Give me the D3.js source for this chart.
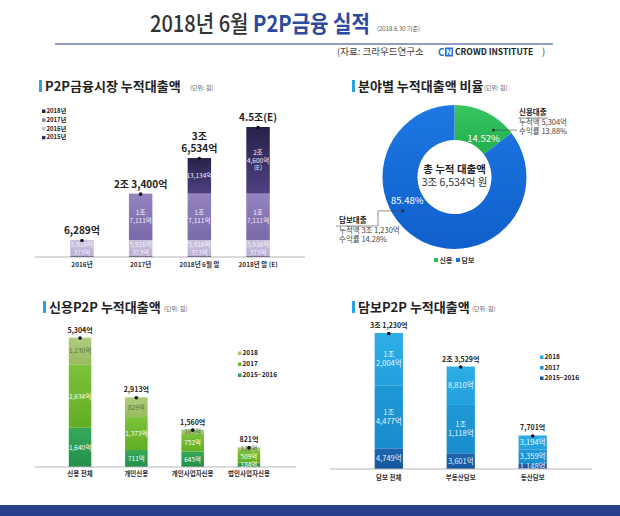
<!DOCTYPE html>
<html>
<head>
<meta charset="utf-8">
<script src="https://cdn.jsdelivr.net/npm/d3@7"></script>
<style>
  body { margin: 0; background: #fff; }
  svg { display: block; font-family: "Noto Sans CJK KR", "Noto Sans", sans-serif; }
</style>
</head>
<body>
<div id="chart"></div>
<script>
  // ---- data (억 원) ----
  const marketCats = ['2016년', '2017년', '2018년 6월 말', '2018년 말 (E)'];
  const marketKeys = ['2018년', '2017년', '2016년', '2015년'];
  const market2015 = [373, 373, 373, 373];
  const market2016 = [5916, 5916, 5916, 5916];
  const market2017 = [0, 17111, 17111, 17111];
  const market2018 = [0, 0, 13134, 24600];
  const marketTotals = [['6,289억'], ['2조 3,400억'], ['3조', '6,534억'], ['4.5조(E)']];
  const marketLabels2016 = [['5,916억', '373억'], ['5,916억', '373억'], ['5,916억', '373억'], ['5,916억', '373억']];
  const marketLabels2017 = [[], ['1조', '7,111억'], ['1조', '7,111억'], ['1조', '7,111억']];
  const marketLabels2018 = [[], [], ['13,134억'], ['2조', '4,600억', '(E)']];

  const shareCats = ['신용', '담보'];
  const shareValues = [14.52, 85.48];
  const shareTotal = ['총 누적 대출액', '3조 6,534억 원'];
  const creditNote = ['신용대출', '누적액 5,304억', '수익률 13.88%'];
  const securedNote = ['담보대출', '누적액 3조 1,230억', '수익률 14.28%'];

  const creditCats = ['신용 전체', '개인신용', '개인사업자신용', '법인사업자신용'];
  const creditKeys = ['2018', '2017', '2015~2016'];
  const credit1516 = [1640, 711, 645, 184];
  const credit2017 = [2634, 1373, 752, 509];
  const credit2018 = [1130, 829, 163, 128];
  const creditTotals = ['5,304억', '2,913억', '1,560억', '821억'];

  const securedCats = ['담보 전체', '부동산담보', '동산담보'];
  const securedKeys = ['2018', '2017', '2015~2016'];
  const secured1516 = [4749, 3601, 1148];
  const secured2017 = [14477, 11118, 3359];
  const secured2018 = [12004, 8810, 3194];
  const securedTotals = ['3조 1,230억', '2조 3,529억', '7,701억'];

  const fmt = d3.format(',');
  const joLabel = v => v >= 10000 ? [Math.floor(v / 10000) + '조', fmt(v % 10000) + '억'] : [fmt(v) + '억'];

  const svg = d3.select('#chart').append('svg')
    .attr('width', 620).attr('height', 516);

  // gradients
  const defs = svg.append('defs');
  const grad = (id, c1, c2) => {
    const g = defs.append('linearGradient').attr('id', id)
      .attr('x1', 0).attr('y1', 0).attr('x2', 0).attr('y2', 1);
    g.append('stop').attr('offset', '0%').attr('stop-color', c1);
    g.append('stop').attr('offset', '100%').attr('stop-color', c2);
  };
  grad('m2018', '#26224a', '#4f3f82');
  grad('m2017', '#9483bf', '#7a69aa');
  grad('m2016', '#cbc1de', '#bcb0d4');
  grad('c2018', '#b0cc7e', '#98ba5e');
  grad('c2017', '#7cc23a', '#62ad24');
  grad('c1516', '#37a85a', '#238f48');
  grad('s2018', '#2eaee5', '#22a0dc');
  grad('s2017', '#1f98d6', '#1a8ccc');
  grad('s1516', '#1c66ae', '#14559c');
  grad('gGreen', '#37c662', '#22ad4e');
  grad('gBlue', '#1e78e2', '#0f5fcc');

  // ---- title ----
  const title = svg.append('text').attr('x', 150).attr('y', 32)
    .attr('textLength', 220).attr('lengthAdjust', 'spacingAndGlyphs')
    .style('font-size', '23px').style('font-weight', 500);
  title.append('tspan').attr('fill', '#333').text('2018년 6월 ');
  title.append('tspan').attr('fill', '#2b4aa0').style('font-weight', 700).text('P2P금융 실적');
  svg.append('text').attr('x', 377).attr('y', 31)
    .attr('fill', '#555').style('font-size', '6px').text('(2018.6.30 기준)');
  svg.append('line').attr('x1', 55).attr('x2', 553).attr('y1', 44).attr('y2', 44)
    .attr('stroke', '#2b3f8a').attr('stroke-width', 1.2);

  // source line
  svg.append('text').attr('x', 337).attr('y', 55).attr('fill', '#444')
    .style('font-size', '9.5px').text('(자료: 크라우드연구소');
  svg.append('text').attr('x', 438).attr('y', 55.5).attr('fill', '#2a6fc9')
    .style('font-size', '10px').style('font-weight', 700).text('C');
  svg.append('rect').attr('x', 445).attr('y', 47.5).attr('width', 8).attr('height', 9).attr('fill', '#2a6fc9');
  svg.append('text').attr('x', 449).attr('y', 55).attr('text-anchor', 'middle').attr('fill', '#fff')
    .style('font-size', '8px').style('font-weight', 700).text('N');
  svg.append('text').attr('x', 455).attr('y', 55).attr('fill', '#222')
    .style('font-size', '8.5px').style('font-weight', 700).text('CROWD INSTITUTE');
  svg.append('text').attr('x', 542).attr('y', 55).attr('fill', '#444')
    .style('font-size', '9.5px').text(')');

  // section headings
  const heading = (x, y, text, unitX) => {
    svg.append('rect').attr('x', x).attr('y', y - 11).attr('width', 3).attr('height', 12).attr('fill', '#29a3e0');
    svg.append('text').attr('x', x + 6).attr('y', y).attr('fill', '#222')
      .style('font-size', '13px').style('font-weight', 700).text(text);
    svg.append('text').attr('x', unitX).attr('y', y - 1).attr('fill', '#666')
      .style('font-size', '6px').text('(단위: 원)');
  };
  heading(39, 91, 'P2P금융시장 누적대출액', 190);
  heading(352, 91, '분야별 누적대출액 비율', 484);
  heading(43, 312, '신용P2P 누적대출액', 164);
  heading(352, 312, '담보P2P 누적대출액', 472);

  // ---- generic stacked bar chart ----
  const createStacked = (cfg) => {
    const g = svg.append('g');
    const x = d3.scaleBand().domain(cfg.cats).range(cfg.xRange).padding(cfg.padding);
    const y = d3.scaleLinear().domain([0, cfg.max]).range([cfg.baseY, cfg.topY]);
    const rows = cfg.cats.map((c, i) => {
      const r = { cat: c };
      cfg.series.forEach((s, j) => { r['s' + j] = s[i]; });
      return r;
    });
    const stack = d3.stack().keys(cfg.series.map((s, j) => 's' + j))(rows);

    stack.forEach((layer, j) => {
      g.append('g').selectAll('rect')
        .data(layer)
        .join('rect')
          .attr('x', d => x(d.data.cat))
          .attr('y', d => y(d[1]))
          .attr('width', x.bandwidth())
          .attr('height', d => y(d[0]) - y(d[1]))
          .attr('fill', cfg.fills[j]);
    });

    // inner labels
    stack.forEach((layer, j) => {
      layer.forEach((d, i) => {
        const lines = cfg.innerLabel(j, i, d);
        if (!lines || !lines.length) return;
        const lo = cfg.labelBottom ? cfg.labelBottom(j, i, d) : d[0];
        const cy = (y(lo) + y(d[1])) / 2;
        const lh = cfg.innerSize * 1.2;
        const y0 = cy - (lines.length - 1) * lh / 2 + cfg.innerSize * 0.36;
        g.append('text')
          .attr('text-anchor', 'middle')
          .attr('fill', cfg.innerColors[j])
          .style('font-size', cfg.innerSize + 'px')
          .selectAll('tspan').data(lines).join('tspan')
            .attr('x', x(d.data.cat) + x.bandwidth() / 2)
            .attr('y', (t, k) => y0 + k * lh)
            .text(t => t);
      });
    });

    // totals with dots
    const top = stack[stack.length - 1];
    top.forEach((d, i) => {
      const cx = x(d.data.cat) + x.bandwidth() / 2;
      g.append('circle').attr('cx', cx).attr('cy', y(d[1]) + 0.5).attr('r', 1.8).attr('fill', '#111');
      const lines = [].concat(cfg.totals[i]);
      const lh = cfg.totalSize * 1.2;
      g.append('text')
        .attr('text-anchor', 'middle')
        .attr('fill', '#222')
        .style('font-size', cfg.totalSize + 'px')
        .style('font-weight', 700)
        .selectAll('tspan').data(lines).join('tspan')
          .attr('x', cx)
          .attr('y', (t, k) => y(d[1]) - cfg.totalGap - (lines.length - 1 - k) * lh)
          .text(t => t);
    });

    // axis
    const axis = g.append('g')
      .attr('transform', `translate(0, ${cfg.baseY})`)
      .call(d3.axisBottom(x).tickSize(0).tickPadding(cfg.tickPad));
    axis.select('.domain').attr('stroke', '#b5b5b5')
      .attr('d', `M${cfg.axisX[0]},0H${cfg.axisX[1]}`);
    axis.selectAll('text')
      .attr('fill', '#333')
      .style('font-family', '"Noto Sans CJK KR", sans-serif')
      .style('font-size', '6.5px')
      .style('font-weight', 700);

    // legend
    const leg = g.append('g');
    cfg.legendKeys.forEach((k, i) => {
      const ly = cfg.legendY + i * cfg.legendStep;
      leg.append('rect').attr('x', cfg.legendX).attr('y', ly - 3.5).attr('width', 3.5).attr('height', 3.5)
        .attr('fill', cfg.legendFills[i]);
      leg.append('text').attr('x', cfg.legendX + 4.5).attr('y', ly).attr('fill', '#222')
        .style('font-size', cfg.legendSize + 'px').style('font-weight', 700).text(k);
    });
  };

  // P2P market cumulative
  createStacked({
    cats: marketCats,
    series: [market2015, market2016, market2017, market2018],
    fills: ['#3b2d6e', 'url(#m2016)', 'url(#m2017)', 'url(#m2018)'],
    xRange: [35, 305], padding: 0.6,
    max: 48000, baseY: 257, topY: 127,
    innerSize: 6.5,
    innerColors: ['#fff', '#f4f1fa', '#f4f1fa', '#f4f1fa'],
    innerLabel: (j, i) => [null, marketLabels2016[i], marketLabels2017[i], marketLabels2018[i]][j],
    labelBottom: (j, i, d) => j === 1 ? 0 : d[0],
    totals: marketTotals, totalSize: 10, totalGap: 6,
    axisX: [35, 305], tickPad: 5,
    legendKeys: marketKeys,
    legendFills: ['#2a2550', '#8a78b6', '#c9bedc', '#3b2d6e'],
    legendX: 42, legendY: 113, legendStep: 8.8, legendSize: 6
  });

  // credit P2P
  createStacked({
    cats: creditCats,
    series: [credit1516, credit2017, credit2018],
    fills: ['url(#c1516)', 'url(#c2017)', 'url(#c2018)'],
    xRange: [35, 294], padding: 0.6,
    max: 5304, baseY: 467, topY: 340,
    innerSize: 6.5,
    innerColors: ['#fff', '#fff', '#5f7040'],
    innerLabel: (j, i, d) => [fmt(d.data['s' + j]) + '억'],
    totals: creditTotals, totalSize: 7, totalGap: 5,
    axisX: [35, 296], tickPad: 4,
    legendKeys: creditKeys,
    legendFills: ['#a5c46e', '#72b82e', '#2f9f52'],
    legendX: 238, legendY: 355, legendStep: 11, legendSize: 6.5
  });

  // secured P2P
  createStacked({
    cats: securedCats,
    series: [secured1516, secured2017, secured2018],
    fills: ['url(#s1516)', 'url(#s2017)', 'url(#s2018)'],
    xRange: [331, 590.5], padding: 0.607,
    max: 31230, baseY: 469, topY: 333,
    innerSize: 7.5,
    innerColors: ['#e6eef8', '#eaf6fc', '#eaf6fc'],
    innerLabel: (j, i, d) => joLabel(d.data['s' + j]),
    totals: securedTotals, totalSize: 7, totalGap: 5,
    axisX: [330, 592], tickPad: 6,
    legendKeys: securedKeys,
    legendFills: ['#2aa7e1', '#1b93d3', '#17599e'],
    legendX: 540, legendY: 359, legendStep: 10.5, legendSize: 6.5
  });

  // ---- donut ----
  const cx = 454.5, cy = 177, rIn = 37, rOut = 72;
  const donut = svg.append('g').attr('transform', `translate(${cx},${cy})`);
  const pie = d3.pie().sort(null).value(d => d);
  const slices = pie(shareValues);
  const arc = d3.arc().innerRadius(rIn).outerRadius(rOut);
  const sliceFills = ['url(#gGreen)', 'url(#gBlue)'];
  donut.selectAll('path')
    .data(slices)
    .join('path')
      .attr('d', arc)
      .attr('fill', (d, i) => sliceFills[i]);

  const along = (d, f) => d.startAngle + (d.endAngle - d.startAngle) * f;
  const pctPos = [[0.71, 48], [0.62, 53]];
  donut.selectAll('text.pct')
    .data(slices)
    .join('text')
      .attr('class', 'pct')
      .attr('transform', (d, i) => `translate(${d3.pointRadial(along(d, pctPos[i][0]), pctPos[i][1])})`)
      .attr('text-anchor', 'middle')
      .attr('dy', '0.35em')
      .attr('fill', '#fff')
      .style('font-size', '9.5px')
      .text((d, i) => shareValues[i].toFixed(2) + '%');

  donut.append('text').attr('text-anchor', 'middle').attr('y', -4)
    .attr('fill', '#222').style('font-size', '10.5px').style('font-weight', 700).text(shareTotal[0]);
  donut.append('text').attr('text-anchor', 'middle').attr('y', 9)
    .attr('fill', '#333').style('font-size', '10.5px').text(shareTotal[1]);

  // annotations
  const dotG = d3.pointRadial(along(slices[0], 0.76), 61);
  const dotB = d3.pointRadial(along(slices[1], 0.6), 62);
  const note = (lines, tx, ty) => {
    svg.append('text').attr('x', tx).attr('y', ty).attr('fill', '#222')
      .style('font-size', '7.5px').style('font-weight', 700).text(lines[0]);
    lines.slice(1).forEach((t, k) => {
      svg.append('text').attr('x', tx).attr('y', ty + 9.5 * (k + 1)).attr('fill', '#444')
        .style('font-size', '7.5px').text(t);
    });
  };
  // green
  const gx = cx + dotG[0], gy = cy + dotG[1];
  svg.append('circle').attr('cx', gx).attr('cy', gy).attr('r', 1.3).attr('fill', '#222');
  svg.append('path').attr('fill', 'none').attr('stroke', '#444').attr('stroke-width', 0.6)
    .attr('d', `M${gx},${gy}H517`);
  svg.append('line').attr('x1', 518).attr('x2', 548).attr('y1', 118).attr('y2', 118)
    .attr('stroke', '#444').attr('stroke-width', 0.6);
  note(creditNote, 519, 115);
  // blue
  const bx = cx + dotB[0], by = cy + dotB[1];
  svg.append('circle').attr('cx', bx).attr('cy', by).attr('r', 1.3).attr('fill', '#222');
  svg.append('path').attr('fill', 'none').attr('stroke', '#444').attr('stroke-width', 0.6)
    .attr('d', `M${bx},${by}H378V226H336`);
  note(securedNote, 339, 223);

  // donut legend
  const legFills = ['#2dbb55', '#1a6fdb'];
  shareCats.forEach((c, i) => {
    const lx = 434 + i * 22;
    svg.append('rect').attr('x', lx).attr('y', 258).attr('width', 4).attr('height', 4).attr('fill', legFills[i]);
    svg.append('text').attr('x', lx + 5.5).attr('y', 262.5).attr('fill', '#333')
      .style('font-size', '7px').style('font-weight', 700).text(c);
  });

  // bottom band
  svg.append('rect').attr('x', 0).attr('y', 505).attr('width', 620).attr('height', 11).attr('fill', '#2a3f8c');
</script>
</body>
</html>
